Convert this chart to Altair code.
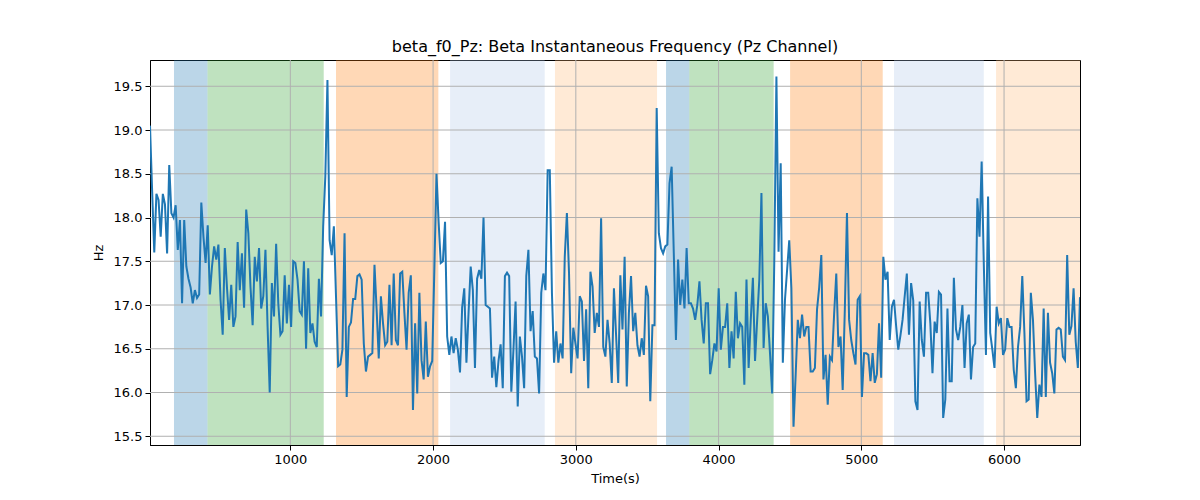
import altair as alt
import pandas as pd

# ---- data ----
seg1 = [19.05, 18.3, 17.6, 18.27, 18.2, 17.78, 18.27, 18.15, 17.59, 18.6, 18.05, 18.0, 18.14, 17.63,
        17.97, 17.02, 17.97, 17.44, 17.3, 17.2, 17.02, 17.17, 17.08, 17.12, 18.17, 17.78, 17.48, 17.91,
        17.12, 17.44, 17.67, 17.52, 17.69, 17.06, 16.66, 17.65, 17.2, 16.83, 17.23]
seg2 = [16.75, 16.87, 17.72, 17.17, 17.59, 16.97, 18.09, 17.82, 17.21, 16.77, 17.55, 17.27, 17.65, 16.96,
        17.1, 17.63, 16.75, 16.0, 17.25, 16.87, 17.7, 17.02, 16.66, 16.7, 17.34, 16.79, 17.23, 16.75,
        17.5, 17.48, 17.29, 16.93, 16.89, 17.5, 16.5, 17.42, 16.68, 16.79, 16.58, 16.52]
seg3 = [17.3, 16.87, 17.9, 18.47, 19.57, 17.74, 17.57, 17.9, 17.1, 16.3, 16.32, 16.49, 17.82, 15.95,
        16.75, 16.8, 17.07, 17.07, 17.33, 17.35, 17.29, 16.56, 16.24, 16.41, 16.43, 16.45, 17.46, 16.95,
        16.39, 17.1, 16.79, 16.54, 16.58, 17.23, 16.54, 17.36, 16.6, 16.54, 17.36, 17.38]
seg4 = [16.91, 16.49, 17.14, 17.34, 15.8, 16.79, 15.99, 17.14, 16.37, 16.15, 16.81, 16.18, 16.3, 16.36,
        17.4, 18.5, 17.95, 17.48, 17.5, 17.95, 16.64, 16.43, 16.64, 16.45, 16.62, 16.49, 16.23, 16.97,
        17.19, 16.34, 16.91, 17.44, 17.17, 16.28, 17.3, 17.4, 17.3, 18.0, 17.0]
seg5 = [16.98, 16.96, 16.17, 16.41, 16.06, 16.36, 16.55, 16.05, 17.33, 17.37, 17.33, 16.01, 16.49, 17.04,
        15.84, 16.64, 16.41, 16.05, 17.33, 17.63, 16.7, 16.93, 16.41, 16.39, 15.99, 17.14, 17.36, 17.17,
        18.54, 18.54, 17.14, 16.34, 16.7, 16.34, 16.56, 16.39, 17.55, 18.05, 17.36, 16.22, 16.74]
seg6 = [16.56, 16.39, 17.1, 17.04, 16.36, 16.95, 16.05, 17.38, 17.21, 16.68, 16.91, 16.75, 17.99, 16.52,
        16.41, 16.83, 16.56, 16.11, 17.19, 16.66, 16.11, 17.34, 16.72, 17.55, 16.07, 16.91, 17.33, 16.7,
        16.91, 16.54, 16.41, 16.62, 16.43, 17.22, 17.1, 15.9, 16.77, 16.77, 19.25]
seg7 = [17.82, 17.65, 17.59, 17.67, 17.69, 18.39, 18.58, 17.59, 16.6, 17.52, 17.0, 17.29, 16.96, 17.65,
        17.02, 17.02, 16.96, 16.83, 17.0, 17.27, 16.83, 16.56, 17.02, 17.02, 16.21, 16.37, 16.56, 16.47,
        17.19, 16.49, 16.75, 16.75, 17.02, 16.28, 16.7, 16.39, 17.15, 16.62, 16.79, 16.75, 16.09]
seg8 = [17.29, 16.28, 16.83, 17.31, 16.36, 16.83, 17.29, 18.28, 16.51, 17.02, 16.87, 16.45, 15.99, 17.5,
        19.61, 17.61, 18.62, 16.34, 17.06, 17.4, 17.74, 17.19, 15.61, 16.2, 16.83, 16.62, 16.89, 16.64,
        16.75, 16.75, 16.24, 16.24, 16.28, 16.95, 17.2, 17.57, 16.15, 16.43]
seg9 = [15.86, 16.41, 16.37, 16.9, 17.36, 16.52, 16.64, 16.03, 16.95, 18.05, 16.83, 16.6, 16.45, 16.32,
        17.06, 17.1, 15.95, 16.45, 16.45, 16.43, 16.13, 16.45, 16.11, 16.21, 16.79, 16.17, 17.55, 17.29,
        17.38, 16.6, 16.98, 17.06, 16.76, 16.49, 16.65, 16.83, 17.1, 17.36, 16.66, 17.25, 17.05]
seg10 = [15.9, 15.8, 17.04, 16.6, 16.41, 17.14, 17.14, 16.79, 16.22, 16.81, 16.68, 17.15, 17.12, 15.71,
         15.92, 16.96, 16.13, 16.13, 17.31, 16.72, 16.6, 16.75, 17.0, 16.28, 16.79, 16.89, 16.15, 16.52,
         16.56, 18.22, 17.78, 18.64, 17.48, 16.43, 18.24, 16.68, 16.49, 16.28, 16.98, 16.79]
seg11 = [16.85, 16.43, 16.49, 16.85, 16.75, 16.75, 16.26, 16.05, 16.52, 16.75, 17.33, 16.68, 15.9, 15.92,
         17.14, 16.83, 16.22, 15.71, 16.09, 15.95, 16.96, 15.95, 16.91, 16.34, 16.22, 15.99, 16.72, 16.74,
         16.72, 16.41, 16.37, 17.57, 16.66, 16.76, 17.19, 16.58, 16.28, 17.09]

hz_values = seg1 + seg2 + seg3 + seg4 + seg5 + seg6 + seg7 + seg8 + seg9 + seg10 + seg11
t_start = 17.0
t_end = 6532.0
n = len(hz_values)
times = [t_start + i * (t_end - t_start) / (n - 1) for i in range(n)]

span_start = [185, 420, 1320, 2119, 2854, 3632, 3795, 4501, 5229, 5944]
span_end = [420, 1234, 2037, 2782, 3569, 3795, 4386, 5150, 5858, 6532]
span_kind = ["blue", "green", "orange", "lightblue", "lightorange",
             "blue", "green", "orange", "lightblue", "lightorange"]
kind_names = ["blue", "green", "orange", "lightblue", "lightorange"]
kind_colors = ["#1f77b4", "#2ca02c", "#ff7f0e", "#aec7e8", "#ffbb78"]

x_ticks = [1000, 2000, 3000, 4000, 5000, 6000]
y_ticks = [15.5, 16.0, 16.5, 17.0, 17.5, 18.0, 18.5, 19.0, 19.5]
x_domain = [t_start, t_end]
y_domain = [15.40, 19.80]

line_df = pd.DataFrame({"t": times, "hz": hz_values})
span_df = pd.DataFrame({"t": span_start, "end": span_end, "kind": span_kind})
xg_df = pd.DataFrame({"t": x_ticks})
yg_df = pd.DataFrame({"hz": y_ticks})

FONT = "DejaVu Sans"
xscale = alt.Scale(domain=x_domain, nice=False, zero=False)
yscale = alt.Scale(domain=y_domain, nice=False, zero=False)

xaxis = alt.Axis(values=x_ticks, format="d", title="Time(s)", grid=False,
                 tickSize=5, labelPadding=3, titlePadding=6,
                 labelFontSize=13, titleFontSize=13, labelFont=FONT, titleFont=FONT,
                 labelColor="black", titleColor="black", tickColor="black",
                 domainColor="black", titleFontWeight="normal", labelFlush=False)
yaxis = alt.Axis(values=y_ticks, format=".1f", title="Hz", grid=False,
                 tickSize=5, labelPadding=3, titlePadding=8,
                 labelFontSize=13, titleFontSize=13, labelFont=FONT, titleFont=FONT,
                 labelColor="black", titleColor="black", tickColor="black",
                 domainColor="black", titleFontWeight="normal", labelFlush=False)

X = alt.X("t:Q", scale=xscale, axis=xaxis)
Y = alt.Y("hz:Q", scale=yscale, axis=yaxis)

spans = alt.Chart(span_df).mark_rect(opacity=0.3, clip=True).encode(
    x=X,
    x2="end:Q",
    color=alt.Color("kind:N", scale=alt.Scale(domain=kind_names, range=kind_colors), legend=None),
)

xgrid = alt.Chart(xg_df).mark_rule(color="#b0b0b0", strokeWidth=1).encode(x=X)
ygrid = alt.Chart(yg_df).mark_rule(color="#b0b0b0", strokeWidth=1).encode(y=Y)

line = alt.Chart(line_df).mark_line(color="#1f77b4", strokeWidth=2, clip=True).encode(x=X, y=Y)

chart = alt.layer(spans, xgrid, ygrid, line).properties(
    width=930,
    height=385,
    autosize=alt.AutoSizeParams(type="none"),
    padding={"left": 142, "top": 52, "right": 112, "bottom": 47},
    background="white",
    title=alt.TitleParams(
        "beta_f0_Pz: Beta Instantaneous Frequency (Pz Channel)",
        font=FONT, fontSize=16, fontWeight="normal", color="black",
        anchor="middle", offset=5,
    ),
).configure_view(stroke="black", strokeWidth=1)

chart.save("out.html", embed_options={"renderer": "svg", "actions": False})
